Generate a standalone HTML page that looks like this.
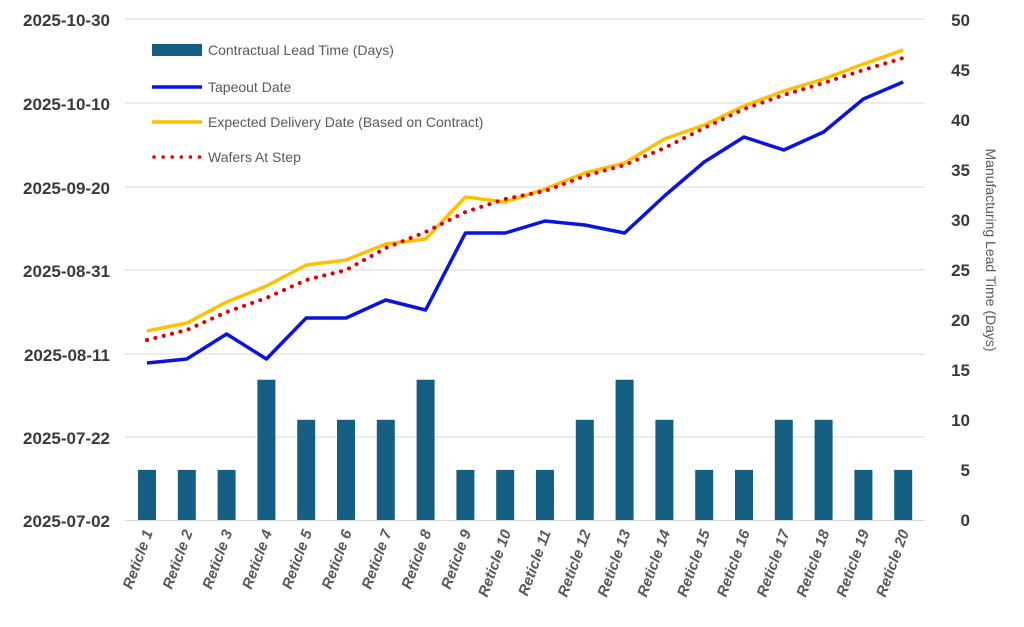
<!DOCTYPE html>
<html><head><style>body{margin:0;background:#fff}svg{display:block}</style></head><body>
<svg width="1024" height="627" xmlns="http://www.w3.org/2000/svg" font-family="Liberation Sans, sans-serif">
<g stroke="#d9d9d9" stroke-width="1">
<line x1="125" y1="19" x2="925" y2="19"/><line x1="125" y1="103" x2="925" y2="103"/><line x1="125" y1="187" x2="925" y2="187"/><line x1="125" y1="270" x2="925" y2="270"/><line x1="125" y1="354" x2="925" y2="354"/><line x1="125" y1="437" x2="925" y2="437"/><line x1="125" y1="520.5" x2="925" y2="520.5"/>
</g>
<g font-size="17" font-weight="bold" fill="#3a3a3a" text-anchor="end">
<text x="110" y="26">2025-10-30</text><text x="110" y="110">2025-10-10</text><text x="110" y="194">2025-09-20</text><text x="110" y="277">2025-08-31</text><text x="110" y="361">2025-08-11</text><text x="110" y="444">2025-07-22</text><text x="110" y="527">2025-07-02</text>
</g>
<g font-size="17" font-weight="bold" fill="#3a3a3a" text-anchor="end">
<text x="970" y="26">50</text><text x="970" y="76">45</text><text x="970" y="126">40</text><text x="970" y="176">35</text><text x="970" y="226">30</text><text x="970" y="276">25</text><text x="970" y="326">20</text><text x="970" y="376">15</text><text x="970" y="426">10</text><text x="970" y="476">5</text><text x="970" y="526">0</text>
</g>
<text transform="translate(986,250) rotate(90)" text-anchor="middle" font-size="14" fill="#595959">Manufacturing Lead Time (Days)</text>
<g fill="#156082" id="bars"></g>
<g id="lbls" font-size="15" font-weight="bold" font-style="italic" fill="#595959" text-anchor="end"></g>
<polyline id="yel" fill="none" stroke="#ffc000" stroke-width="3.5" stroke-linejoin="round"/>
<polyline id="red" fill="none" stroke="#e00000" stroke-width="4" stroke-dasharray="0.1 8.5" stroke-linecap="round"/>
<polyline id="blu" fill="none" stroke="#0a14e0" stroke-width="3.5" stroke-linejoin="round"/>
<rect x="152" y="44" width="50" height="12" fill="#156082"/>
<line x1="152" y1="87" x2="202" y2="87" stroke="#0a14e0" stroke-width="3.5"/>
<line x1="152" y1="122" x2="202" y2="122" stroke="#ffc000" stroke-width="3.5"/>
<line x1="154" y1="157" x2="202" y2="157" stroke="#e00000" stroke-width="3.5" stroke-dasharray="0.1 9" stroke-linecap="round"/>
<g font-size="14" fill="#595959">
<text x="208" y="55">Contractual Lead Time (Days)</text><text x="208" y="92">Tapeout Date</text><text x="208" y="127">Expected Delivery Date (Based on Contract)</text><text x="208" y="162">Wafers At Step</text>
</g>
<script>
var v=[5,5,5,14,10,10,10,14,5,5,5,10,14,10,5,5,10,10,5,5];
var b=[363,359,334,359,318,318,300,310,233,233,221,225,233,196,162,137,150,132,99,82];
var y=[331,323,302,286,265,260,244,239,197,202,189,173,163,139,125,106,91,79,64,50];
var r=[340,330,312,298,280,270,248,232,212,199,191,176,165,148,128,109,95,83,70,58];
var ns="http://www.w3.org/2000/svg",g=document.getElementById('bars'),l=document.getElementById('lbls');
var pb=[],py=[],pr=[];
for(var i=0;i<20;i++){var x=147+i*39.8;
var rc=document.createElementNS(ns,'rect');rc.setAttribute('x',x-9);rc.setAttribute('width',18);rc.setAttribute('y',520-v[i]*10.02);rc.setAttribute('height',v[i]*10.02);g.appendChild(rc);
var t=document.createElementNS(ns,'text');t.setAttribute('transform','translate('+(x+6)+',532) rotate(-70)');t.textContent='Reticle '+(i+1);l.appendChild(t);
pb.push(x+','+b[i]);py.push(x+','+y[i]);pr.push(x+','+r[i]);}
document.getElementById('blu').setAttribute('points',pb.join(' '));
document.getElementById('yel').setAttribute('points',py.join(' '));
document.getElementById('red').setAttribute('points',pr.join(' '));
</script>
</svg>
</body></html>
